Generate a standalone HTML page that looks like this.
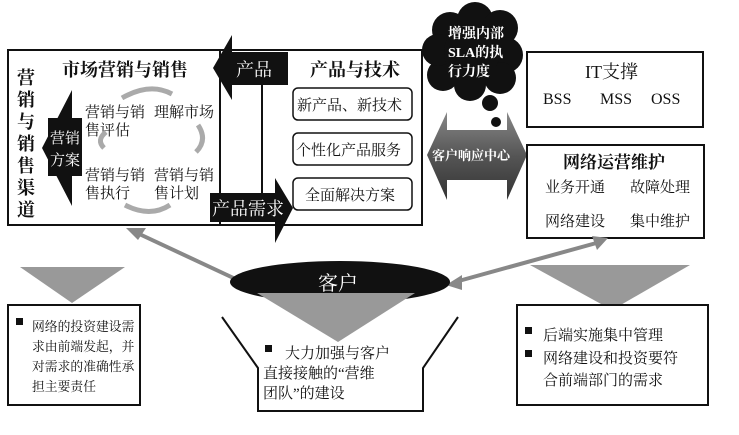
<!DOCTYPE html>
<html><head><meta charset="utf-8"><style>
body{margin:0;background:#fff}
text{font-family:"Liberation Serif","Noto Serif CJK SC",serif;fill:#111}
</style></head><body>
<svg width="739" height="430" viewBox="0 0 739 430" xmlns="http://www.w3.org/2000/svg">
<defs>
<linearGradient id="g" x1="0" y1="0" x2="0" y2="1"><stop offset="0" stop-color="#888"/><stop offset="0.5" stop-color="#555"/><stop offset="1" stop-color="#333"/></linearGradient>
</defs>
<rect x="8" y="50" width="414" height="175" fill="#fff" stroke="#111" stroke-width="2"/>
<line x1="220" y1="50" x2="220" y2="225" stroke="#111" stroke-width="2"/>
<line x1="262" y1="85" x2="262" y2="195" stroke="#111" stroke-width="2"/>
<polygon points="288,52 232,52 232,35 213,68 232,100 232,85 288,85" fill="#111"/>
<text x="236" y="76" font-size="18" style="fill:#fff">产品</text>
<polygon points="210,193 275,193 275,178 293,208 275,243 275,222 210,222" fill="#111"/>
<text x="212" y="215" font-size="18" style="fill:#fff">产品需求</text>
<text x="310" y="76" font-size="18" font-weight="bold">产品与技术</text>
<rect x="293" y="88" width="119" height="32" rx="5" fill="#fff" stroke="#111" stroke-width="1.5"/>
<text x="297" y="110" font-size="15">新产品、新技术</text>
<rect x="293" y="133" width="119" height="32" rx="5" fill="#fff" stroke="#111" stroke-width="1.5"/>
<text x="296" y="155" font-size="15">个性化产品服务</text>
<rect x="293" y="178" width="119" height="32" rx="5" fill="#fff" stroke="#111" stroke-width="1.5"/>
<text x="305" y="200" font-size="15">全面解决方案</text>
<text x="62" y="76" font-size="18" font-weight="bold">市场营销与销售</text>
<g font-size="18" font-weight="bold">
<text x="17" y="84">营</text><text x="17" y="106">销</text><text x="17" y="128">与</text><text x="17" y="150">销</text><text x="17" y="172">售</text><text x="17" y="194">渠</text><text x="17" y="216">道</text></g>
<polygon points="82,118 72,118 72,90 42,148 72,206 72,176 82,176" fill="#111"/>
<rect x="48" y="118" width="34" height="58" fill="#111"/>
<text x="50" y="143" font-size="15" style="fill:#fff">营销</text>
<text x="50" y="165" font-size="15" style="fill:#fff">方案</text>
<g font-size="15">
<text x="85" y="117">营销与销</text><text x="85" y="135">售评估</text>
<text x="154" y="117">理解市场</text>
<text x="85" y="180">营销与销</text><text x="85" y="198">售执行</text>
<text x="154" y="180">营销与销</text><text x="154" y="198">售计划</text></g>
<g fill="none" stroke="#aaa" stroke-width="5">
<path d="M122,98 Q150,82 172,94"/><path d="M198,125 Q208,140 196,152"/><path d="M104,148 Q96,140 106,132"/><path d="M125,205 Q150,218 170,205"/></g>
<g fill="#111">
<circle cx="450" cy="30" r="18"/><circle cx="475" cy="20" r="18"/><circle cx="500" cy="28" r="18"/><circle cx="505" cy="55" r="18"/><circle cx="500" cy="78" r="16"/><circle cx="470" cy="85" r="16"/><circle cx="443" cy="75" r="16"/><circle cx="438" cy="50" r="16"/><circle cx="472" cy="52" r="28"/>
<circle cx="490" cy="103" r="8"/><circle cx="496" cy="122" r="5"/><circle cx="499" cy="135" r="3"/></g>
<text x="448" y="38" font-size="14" font-weight="bold" style="fill:#fff">增强内部</text>
<text x="448" y="57" font-size="14" font-weight="bold" style="fill:#fff">SLA的执</text>
<text x="448" y="76" font-size="14" font-weight="bold" style="fill:#fff">行力度</text>
<polygon points="427,155 447,112 447,130 507,130 507,112 527,155 507,200 507,180 447,180 447,200" fill="url(#g)"/>
<text x="432" y="160" font-size="13" font-weight="bold" style="fill:#fff">客户响应中心</text>
<rect x="527" y="52" width="176" height="75" fill="#fff" stroke="#111" stroke-width="2"/>
<text x="585" y="78" font-size="18">IT支撑</text>
<g font-size="16"><text x="543" y="104">BSS</text><text x="600" y="104">MSS</text><text x="651" y="104">OSS</text></g>
<rect x="527" y="145" width="177" height="93" fill="#fff" stroke="#111" stroke-width="2"/>
<text x="563" y="168" font-size="17" font-weight="bold">网络运营维护</text>
<g font-size="15"><text x="545" y="192">业务开通</text><text x="630" y="192">故障处理</text>
<text x="545" y="226">网络建设</text><text x="630" y="226">集中维护</text></g>
<g stroke="#888" stroke-width="4" fill="#888">
<line x1="135" y1="232" x2="242" y2="282"/><polygon points="126,228 146,228 138,240" stroke="none"/>
<polygon points="250,286 232,286 240,274" stroke="none"/>
<line x1="455" y1="282" x2="600" y2="242"/><polygon points="446,285 462,275 462,290" stroke="none"/>
<polygon points="608,238 592,236 597,250" stroke="none"/></g>
<polygon points="20,267 125,267 72,303" fill="#999"/>
<polygon points="530,265 690,265 612,310" fill="#999"/>
<rect x="8" y="305" width="132" height="100" fill="#fff" stroke="#111" stroke-width="2"/>
<rect x="517" y="305" width="191" height="100" fill="#fff" stroke="#111" stroke-width="2"/>
<ellipse cx="340" cy="282" rx="110" ry="21" fill="#111"/>
<text x="318" y="290" font-size="20" style="fill:#fff">客户</text>
<polygon points="257,293 415,293 338,342" fill="#999"/>
<polyline points="222,317 258,368 258,411 423,411 423,368 458,317" fill="none" stroke="#111" stroke-width="2"/>
<g font-size="12.8">
<rect x="16" y="318" width="7" height="7" fill="#111"/>
<text x="32" y="331">网络的投资建设需</text><text x="32" y="351">求由前端发起，并</text><text x="32" y="371">对需求的准确性承</text><text x="32" y="391">担主要责任</text></g>
<g font-size="15">
<rect x="265" y="345" width="7" height="7" fill="#111"/>
<text x="285" y="358">大力加强与客户</text><text x="263" y="378">直接接触的“营维</text><text x="263" y="398">团队”的建设</text>
<rect x="525" y="327" width="7" height="7" fill="#111"/>
<text x="543" y="340">后端实施集中管理</text>
<rect x="525" y="350" width="7" height="7" fill="#111"/>
<text x="543" y="363">网络建设和投资要符</text><text x="543" y="385">合前端部门的需求</text></g>
</svg>
</body></html>
